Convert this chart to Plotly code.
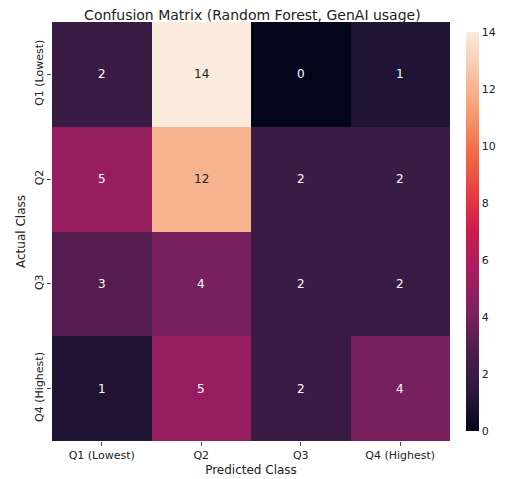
import plotly.graph_objects as go

classes = ["Q1 (Lowest)", "Q2", "Q3", "Q4 (Highest)"]
counts = [
    [2, 14, 0, 1],
    [5, 12, 2, 2],
    [3, 4, 2, 2],
    [1, 5, 2, 4],
]

rocket = [
    [0.0, "#03051a"], [0.1, "#2b1a3e"], [0.2, "#4e1d4c"], [0.3, "#7e2060"],
    [0.4, "#a81c60"], [0.5, "#cb1b4f"], [0.6, "#e83f3f"], [0.7, "#f26c47"],
    [0.8, "#f69c73"], [0.9, "#f7c5a6"], [1.0, "#faebdd"],
]

fig = go.Figure(go.Heatmap(
    z=counts, x=classes, y=classes, colorscale=rocket, zmin=0, zmax=14,
    showscale=True,
    colorbar=dict(thickness=13, len=1, y=0.5, yanchor="middle", x=1.04, xpad=0,
                  tickvals=list(range(0, 15, 2)), outlinewidth=0,
                  tickfont=dict(size=11, color="#222")),
))

for i, row in enumerate(counts):
    for j, v in enumerate(row):
        fig.add_annotation(x=classes[j], y=classes[i], text=str(v), showarrow=False,
                           font=dict(size=12, color="#222" if v >= 10 else "white"))

fig.update_layout(
    width=520, height=479,
    margin=dict(l=40, r=78, t=14, b=32),
    paper_bgcolor="white", plot_bgcolor="white",
    font=dict(family="DejaVu Sans", color="#222"),
    title=dict(text="Confusion Matrix (Random Forest, GenAI usage)", x=0.47, xanchor="center",
               y=0.995, yanchor="top", font=dict(size=14)),
)
fig.update_xaxes(title=dict(text="Predicted Class", font=dict(size=12), standoff=4),
                 tickfont=dict(size=11), ticks="outside", ticklen=4, showgrid=False)
fig.update_yaxes(title=dict(text="Actual Class", font=dict(size=12), standoff=4),
                 tickfont=dict(size=11), ticks="outside", ticklen=4, tickangle=-90,
                 autorange="reversed", showgrid=False)

fig.write_html("out.html")
